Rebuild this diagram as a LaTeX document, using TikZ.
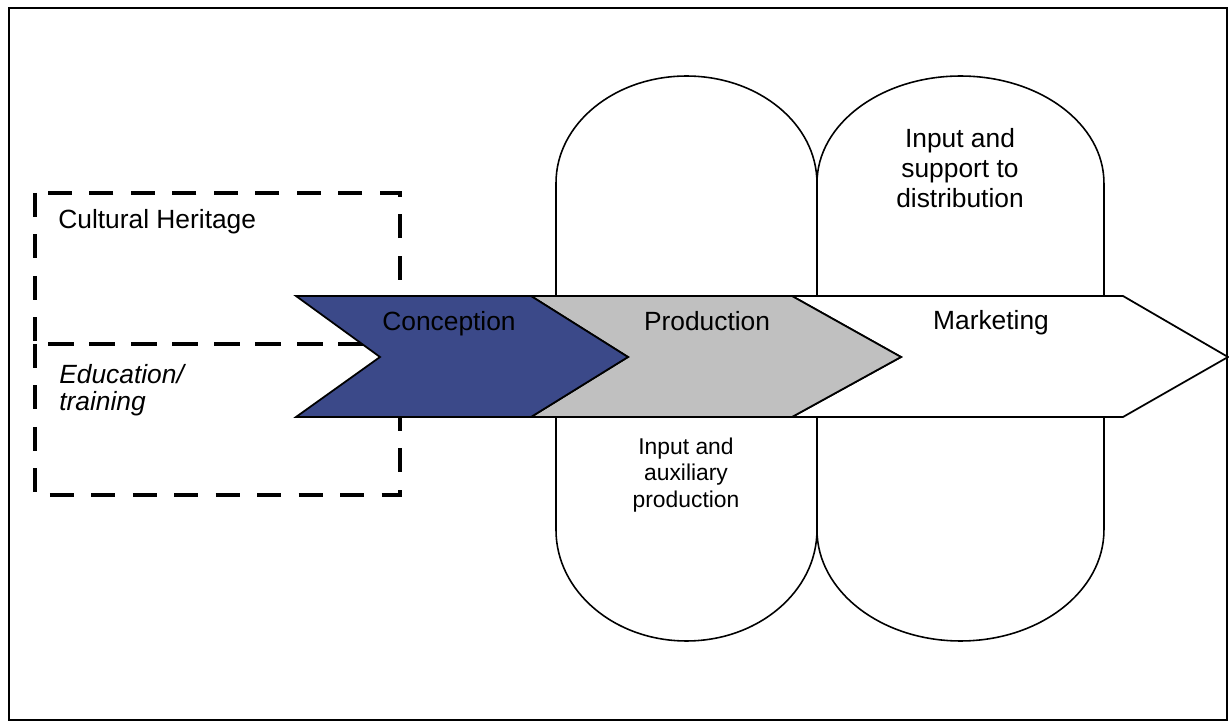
\documentclass[tikz,border=0pt]{standalone}
\usepackage{fontspec}
\setmainfont{Liberation Sans}
\usetikzlibrary{calc}
\usetikzlibrary{positioning}

\definecolor{conceptblue}{RGB}{59,73,137}
\definecolor{prodgray}{RGB}{192,192,192}

\tikzset{
    stage/.style={draw, line width=1pt, line join=miter},
    lobe/.style={draw, line width=0.9pt},
    areabox/.style={draw, line width=2.8pt, dash pattern=on 13.6pt off 10pt},
    bigtext/.style={inner sep=0pt, font=\fontsize{15}{17}\selectfont},
    smalltext/.style={inner sep=0pt, align=center, font=\fontsize{13}{15.3}\selectfont}
}

\begin{document}
\begin{tikzpicture}[x=0.02cm, y=-0.02cm]

        \useasboundingbox (0,0) rectangle (1229,722);

        \path[draw, line width=1.2pt] (9,8) rectangle (1227,720);

        % heritage and education areas
        \path[areabox] (35,193) rectangle (400,344);
        \path[areabox] (35,344) rectangle (400,495);

        % support lobes above and below the chain
        \path[lobe] (556,296) -- (556,183) arc[start angle=180, end angle=0, x radius=2.61cm, y radius=2.14cm] -- (817,296);
        \path[lobe] (817,296) -- (817,183) arc[start angle=180, end angle=0, x radius=2.87cm, y radius=2.14cm] -- (1104,296);
        \path[lobe] (556,417) -- (556,530) arc[start angle=180, end angle=360, x radius=2.61cm, y radius=2.22cm] -- (817,417);
        \path[lobe] (817,417) -- (817,530) arc[start angle=180, end angle=360, x radius=2.87cm, y radius=2.22cm] -- (1104,417);

        % value chain
        \path[stage, fill=white] (792,296) -- (1123,296) -- (1228,357) -- (1123,417) -- (792,417) -- (901,357) -- cycle;
        \path[stage, fill=prodgray] (531,296) -- (792,296) -- (901,357) -- (792,417) -- (531,417) -- (628,357) -- cycle;
        \path[stage, fill=conceptblue] (296,296) -- (531,296) -- (628,357) -- (531,417) -- (296,417) -- (380,357) -- cycle;

        \node[bigtext, anchor=base] (conception) at (449,331) {Conception};
        \node[bigtext, anchor=base] (production) at (707,331) {Production};
        \node[bigtext, anchor=base] (marketing) at (991,330) {Marketing};

        \node[bigtext, anchor=base west] (heritage) at (58,229) {Cultural Heritage};
        \node[bigtext, anchor=west, align=left, font=\fontsize{15}{15.3}\selectfont\itshape] (education) at (59,390) {Education/\\training};

        \node[bigtext, align=center] (distribution) at (960,168) {Input and\\support to\\distribution};
        \node[smalltext] (auxiliary) at (686,475) {Input and\\auxiliary\\production};

    \end{tikzpicture}
\end{document}
